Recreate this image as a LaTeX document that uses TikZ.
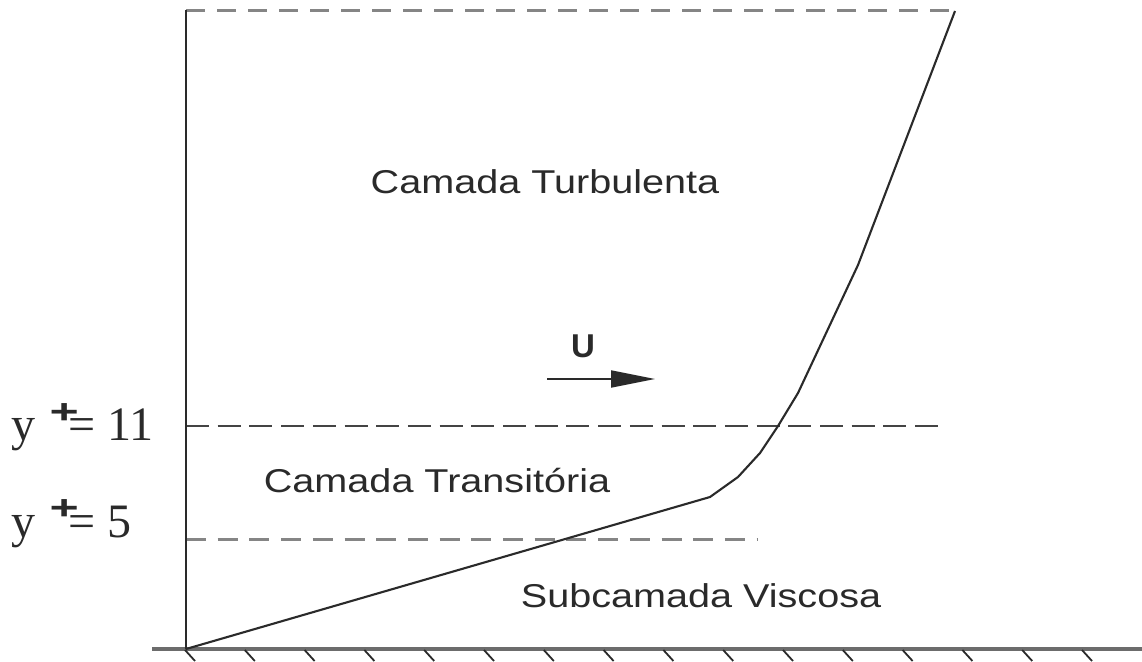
\documentclass[tikz,border=0pt]{standalone}
\usepackage{fontspec}
\setmainfont{Liberation Serif}
\newfontfamily\sansf{Liberation Sans}
\usetikzlibrary{arrows.meta}
\definecolor{ink}{HTML}{2A2A2A}
\definecolor{dashdark}{HTML}{444444}
\definecolor{dashlight}{HTML}{858585}
\newcommand{\yplus}[1]{y\hspace{14.5pt}\raisebox{#1}{\sansf\bfseries\fontsize{40}{42}\selectfont\scalebox{1.25}[0.85]{+}}\hspace{-10.5pt}}
\tikzset{
  solidline/.style={draw=ink, line width=2.1pt},
  dashline/.style={draw=dashdark, line width=2.4pt, dash pattern=on 23pt off 8.7pt},
  lowdash/.style={draw=dashlight, line width=3pt, dash pattern=on 20pt off 11.7pt},
  topdash/.style={draw=dashlight, line width=3pt, dash pattern=on 19pt off 12pt},
  ground/.style={draw=gray!85!black, line width=3.6pt},
  hatch/.style={draw=ink, line width=1.8pt},
  region/.style={font=\sansf\fontsize{33}{36}\selectfont, text=ink, inner sep=0pt},
  ylab/.style={font=\fontsize{48}{52}\selectfont, text=ink, inner sep=0pt, anchor=base west},
}
\begin{document}
\begin{tikzpicture}[x=1pt,y=-1pt]
\useasboundingbox (0,0) rectangle (1142,661);
\fill[white] (0,0) rectangle (1142,661);
% coordinates
\coordinate (o) at (186,649);
\coordinate (top) at (186,10);
\coordinate (gl) at (152,649);
\coordinate (gr) at (1142,649);
\coordinate (t1) at (186,11);
\coordinate (t2) at (955,11);
\coordinate (a1) at (186,426);
\coordinate (a2) at (942,426);
\coordinate (b1) at (186,539);
\coordinate (b2) at (757,539);
% dashed lines
\draw[topdash] (t1) -- (t2);
\draw[dashline] (a1) -- (a2);
\draw[lowdash] (b1) -- (b2);
% axes
\draw[ground] (gl) -- (gr);
\draw[solidline] (o) -- (top);
\foreach \k in {0,...,15} {
  \draw[hatch] ({185+59.8*\k},650) -- ({195+59.8*\k},661);
}
% velocity profile
\draw[solidline, line join=round] (o) -- (710,497) -- (738,477) -- (760,453) -- (778,426) -- (798,393) -- (858,265) -- (t2);
% labels
\node[region] (turb) at (545,182) {\scalebox{1.2}[1]{Camada Turbulenta}};
\node[region] (trans) at (437,481) {\scalebox{1.2}[1]{Camada Transitória}};
\node[region] (visc) at (701,596) {\scalebox{1.2}[1]{Subcamada Viscosa}};
\node[font=\sansf\bfseries\fontsize{33}{36}\selectfont, text=ink, inner sep=0pt] (U) at (583,346) {U};
\coordinate (ua) at (547,379);
\coordinate (ub) at (655,379);
\draw[draw=ink, line width=1.8pt, -{Triangle[length=44pt,width=17pt]}] (ua) -- (ub);
% y+ labels
\node[ylab] (y11) at (11,440) {\yplus{17pt}= 11};
\node[ylab] (y5) at (11,537) {\yplus{18pt}= 5};
\end{tikzpicture}
\end{document}
